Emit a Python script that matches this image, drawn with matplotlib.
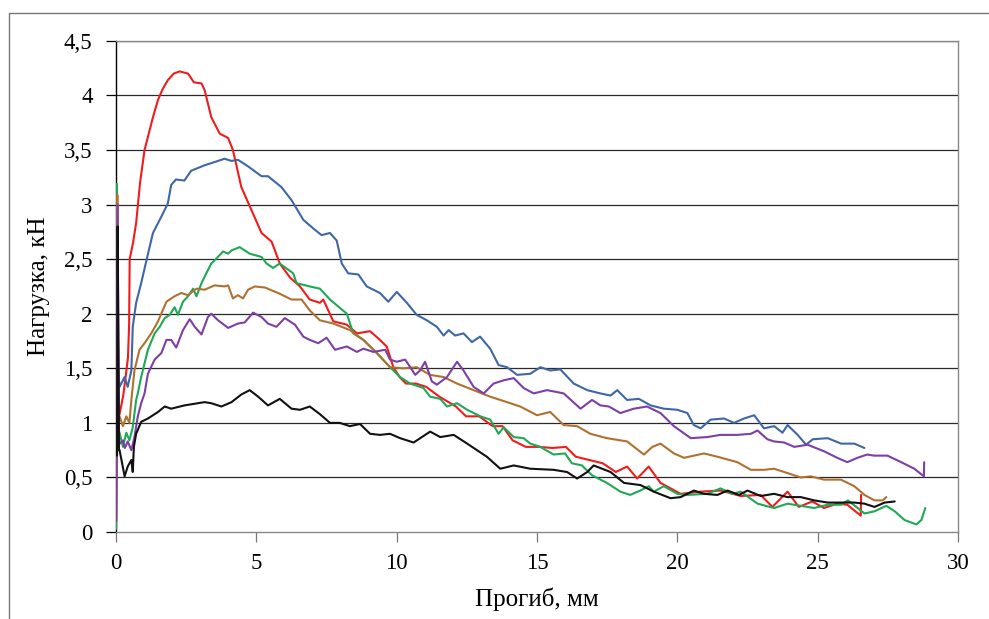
import matplotlib
matplotlib.use("Agg")
import matplotlib.pyplot as plt
from matplotlib.patches import Rectangle

plt.rcParams['font.family'] = ['Liberation Serif', 'DejaVu Serif']

# Кривые нагрузка-прогиб (прогиб, мм; нагрузка, кН)
red_x = [0.0, 0.04, 0.12, 0.25, 0.35, 0.42, 0.46, 0.48, 0.6, 0.71, 0.85, 1.01, 1.13, 1.31, 1.49,
         1.66, 1.84, 2.05, 2.26, 2.56, 2.77, 3.04, 3.15, 3.39, 3.69, 3.99, 4.16, 4.46, 4.82, 5.18,
         5.54, 5.83, 6.2, 6.55, 6.90, 7.26, 7.38, 7.74, 8.22, 8.58, 9.05, 9.40, 9.64, 9.88, 10.1,
         10.33, 10.69, 11.05, 11.52, 12.11, 12.47, 12.94, 13.42, 13.77, 14.13, 14.60, 15.08, 15.55,
         16.03, 16.38, 16.86, 17.34, 17.81, 18.21, 18.57, 18.98, 19.40, 20.12, 20.83, 21.54, 22.26,
         22.97, 23.39, 23.93, 24.33, 24.81, 25.23, 25.70, 26.06, 26.54, 26.55]
red_y = [0.12, 1.22, 1.08, 1.25, 1.45, 1.6, 1.9, 2.5, 2.65, 2.83, 3.2, 3.5, 3.62, 3.8, 3.96,
         4.06, 4.14, 4.2, 4.22, 4.20, 4.12, 4.11, 4.05, 3.80, 3.65, 3.61, 3.50, 3.16, 2.95, 2.74,
         2.66, 2.46, 2.33, 2.25, 2.13, 2.10, 2.13, 1.93, 1.90, 1.82, 1.84, 1.76, 1.70, 1.51, 1.42,
         1.36, 1.36, 1.33, 1.24, 1.15, 1.06, 1.06, 0.97, 0.97, 0.84, 0.78, 0.78, 0.77,
         0.78, 0.69, 0.66, 0.63, 0.55, 0.60, 0.49, 0.60, 0.45, 0.35, 0.37, 0.38, 0.33,
         0.34, 0.23, 0.37, 0.23, 0.28, 0.22, 0.26, 0.25, 0.15, 0.34]

blue_x = [0.03, 0.06, 0.12, 0.30, 0.41, 0.54, 0.59, 0.71, 0.89, 1.07, 1.31, 1.61, 1.84, 1.96, 2.13,
          2.43, 2.67, 3.15, 3.51, 3.86, 4.11, 4.34, 4.70, 5.18, 5.41, 5.89, 6.25, 6.67, 7.03, 7.32,
          7.62, 7.86, 8.04, 8.27, 8.63, 8.93, 9.40, 9.70, 10.0, 10.36, 10.71, 11.07, 11.43, 11.67,
          11.85, 12.08, 12.38, 12.68, 12.97, 13.33, 13.63, 13.93, 14.29, 14.76, 15.12, 15.47, 15.83,
          16.31, 16.79, 17.26, 17.62, 17.86, 18.21, 18.63, 19.05, 19.52, 20.00, 20.36, 20.59, 20.83,
          21.19, 21.67, 22.02, 22.38, 22.74, 23.09, 23.45, 23.75, 23.93, 24.29, 24.59, 24.83, 25.36,
          25.84, 26.31, 26.67]
blue_y = [1.2, 1.5, 1.33, 1.42, 1.33, 1.48, 1.88, 2.10, 2.28, 2.48, 2.74, 2.89, 3.01, 3.18, 3.23,
          3.22, 3.31, 3.36, 3.39, 3.42, 3.40, 3.41, 3.35, 3.26, 3.26, 3.16, 3.04, 2.86, 2.78, 2.72,
          2.74, 2.67, 2.46, 2.37, 2.36, 2.25, 2.19, 2.11, 2.20, 2.10, 1.99, 1.94, 1.88, 1.80,
          1.85, 1.80, 1.82, 1.74, 1.79, 1.68, 1.53, 1.51, 1.44, 1.45, 1.51, 1.48, 1.49,
          1.36, 1.30, 1.27, 1.25, 1.30, 1.21, 1.22, 1.16, 1.13, 1.12, 1.09, 0.98, 0.95,
          1.03, 1.04, 1.00, 1.04, 1.07, 0.95, 0.97, 0.91, 0.98, 0.89, 0.80, 0.85, 0.86,
          0.81, 0.81, 0.77]

green_x = [0.0, 0.02, 0.06, 0.12, 0.24, 0.36, 0.47, 0.59, 0.71, 0.77, 0.89, 1.13, 1.37, 1.55, 1.73,
           1.91, 2.08, 2.20, 2.38, 2.56, 2.74, 2.86, 3.04, 3.21, 3.39, 3.51, 3.81, 3.99, 4.11, 4.40,
           4.76, 5.18, 5.36, 5.59, 5.83, 6.31, 6.43, 6.90, 7.26, 7.62, 8.22, 8.45, 8.81, 9.29, 9.76,
           10.12, 10.48, 10.95, 11.19, 11.55, 11.79, 12.15, 12.51, 12.98, 13.33, 13.63, 13.81, 14.17,
           14.52, 14.76, 15.12, 15.59, 16.0, 16.24, 16.6, 16.96, 17.49, 17.97, 18.32, 18.68, 18.98,
           19.16, 19.52, 20.0, 20.36, 21.07, 21.54, 21.96, 22.26, 22.86, 23.45, 23.93, 24.4, 24.88,
           25.36, 25.84, 26.08, 26.38, 26.67, 27.03, 27.45, 27.75, 28.1, 28.52, 28.7, 28.84]
green_y = [0.03, 3.19, 0.95, 0.91, 0.78, 0.91, 0.84, 0.96, 1.21, 1.27, 1.42, 1.67, 1.82, 1.88, 1.96,
           1.99, 2.06, 1.99, 2.11, 2.16, 2.23, 2.16, 2.28, 2.37, 2.46, 2.49, 2.57, 2.55, 2.58, 2.61,
           2.55, 2.52, 2.46, 2.42, 2.46, 2.37, 2.28, 2.25, 2.23, 2.13, 2.00, 1.82, 1.76, 1.64, 1.51,
           1.42, 1.36, 1.32, 1.24, 1.22, 1.15, 1.18, 1.12, 1.06, 1.03, 0.90, 0.96, 0.87,
           0.86, 0.81, 0.78, 0.71, 0.72, 0.63, 0.61, 0.52, 0.45, 0.37, 0.34, 0.38, 0.42,
           0.37, 0.42, 0.35, 0.34, 0.35, 0.40, 0.35, 0.37, 0.26, 0.22, 0.26, 0.24, 0.22,
           0.25, 0.25, 0.29, 0.23, 0.17, 0.19, 0.24, 0.19, 0.11, 0.07, 0.11, 0.22]

brown_x = [0.02, 0.04, 0.08, 0.12, 0.24, 0.36, 0.47, 0.54, 0.65, 0.83, 1.01, 1.25, 1.49, 1.79, 2.08,
           2.32, 2.56, 2.86, 3.15, 3.51, 3.86, 3.99, 4.16, 4.34, 4.52, 4.70, 4.94, 5.30, 5.77, 6.25,
           6.61, 6.90, 7.26, 7.74, 8.33, 8.81, 9.29, 9.76, 10.24, 10.71, 11.19, 11.67, 12.15, 12.74,
           13.33, 13.93, 14.40, 15.0, 15.47, 15.95, 16.43, 16.9, 17.49, 18.21, 18.81, 19.11, 19.40,
           19.88, 20.24, 20.95, 21.43, 22.14, 22.62, 23.09, 23.45, 23.93, 24.40, 24.76, 25.23, 25.83,
           26.31, 26.67, 27.03, 27.32, 27.45]
brown_y = [1.0, 3.09, 1.1, 1.06, 0.97, 1.06, 1.00, 1.21, 1.48, 1.67, 1.73, 1.82, 1.93, 2.11, 2.16,
           2.19, 2.17, 2.23, 2.22, 2.26, 2.25, 2.26, 2.14, 2.17, 2.14, 2.22, 2.25, 2.24, 2.19, 2.13,
           2.13, 2.03, 1.94, 1.91, 1.85, 1.76, 1.64, 1.51, 1.50, 1.51, 1.44, 1.42, 1.36, 1.30,
           1.24, 1.19, 1.15, 1.07, 1.10, 0.98, 0.97, 0.90, 0.86, 0.83, 0.71, 0.78, 0.81,
           0.72, 0.68, 0.72, 0.69, 0.64, 0.57, 0.57, 0.58, 0.54, 0.50, 0.51, 0.48, 0.48,
           0.42, 0.34, 0.29, 0.29, 0.32]

purple_x = [0.0, 0.05, 0.1, 0.12, 0.24, 0.31, 0.41, 0.54, 0.65, 0.77, 0.89, 1.01, 1.13, 1.37, 1.61,
            1.79, 1.96, 2.14, 2.38, 2.62, 2.80, 3.04, 3.27, 3.39, 3.63, 3.99, 4.34, 4.58, 4.88, 5.18,
            5.41, 5.71, 6.01, 6.37, 6.67, 6.90, 7.20, 7.50, 7.80, 8.22, 8.58, 8.81, 9.17, 9.59, 9.76,
            10.0, 10.3, 10.66, 10.83, 11.01, 11.25, 11.43, 11.79, 12.15, 12.38, 12.74, 13.10, 13.45,
            13.81, 14.17, 14.52, 14.88, 15.36, 15.95, 16.55, 16.96, 17.26, 17.56, 17.97, 18.45, 18.92,
            19.40, 19.88, 20.48, 21.07, 21.54, 22.14, 22.62, 22.86, 23.21, 23.45, 23.81, 24.17, 24.64,
            25.23, 25.70, 26.06, 26.42, 26.77, 27.01, 27.49, 27.98, 28.45, 28.79, 28.80]
purple_y = [0.1, 3.0, 0.8, 0.81, 0.84, 0.77, 0.83, 0.75, 0.87, 1.06, 1.18, 1.27, 1.45, 1.58, 1.64,
            1.76, 1.76, 1.69, 1.85, 1.95, 1.88, 1.81, 1.97, 2.00, 1.94, 1.87, 1.91, 1.92, 2.01, 1.97,
            1.91, 1.88, 1.96, 1.90, 1.79, 1.76, 1.73, 1.78, 1.67, 1.70, 1.65, 1.68, 1.65, 1.67, 1.58,
            1.56, 1.58, 1.44, 1.48, 1.56, 1.38, 1.35, 1.42, 1.56, 1.48, 1.33, 1.27, 1.36,
            1.39, 1.41, 1.32, 1.27, 1.30, 1.27, 1.13, 1.21, 1.16, 1.15, 1.09, 1.13, 1.15,
            1.09, 0.97, 0.86, 0.87, 0.89, 0.89, 0.90, 0.93, 0.85, 0.83, 0.82, 0.78, 0.80,
            0.74, 0.68, 0.64, 0.68, 0.71, 0.70, 0.70, 0.64, 0.58, 0.51, 0.64]

black_x = [0.03, 0.05, 0.1, 0.12, 0.30, 0.41, 0.54, 0.59, 0.63, 0.71, 0.89, 1.13, 1.49, 1.73, 1.96,
           2.43, 3.15, 3.39, 3.75, 4.11, 4.46, 4.76, 5.06, 5.41, 5.83, 6.25, 6.55, 6.90, 7.26, 7.62,
           7.97, 8.33, 8.69, 9.05, 9.40, 9.76, 10.12, 10.60, 11.19, 11.55, 12.03, 12.51, 13.21, 13.69,
           14.17, 14.76, 15.59, 16.07, 16.43, 16.79, 17.02, 17.62, 18.1, 18.69, 19.16, 19.76, 20.12,
           20.59, 20.95, 21.43, 21.79, 22.2, 22.5, 22.97, 23.45, 23.93, 24.40, 24.88, 25.36, 25.84,
           26.31, 26.67, 27.03, 27.39, 27.75]
black_y = [0.7, 2.8, 0.75, 0.75, 0.51, 0.60, 0.66, 0.55, 0.78, 0.90, 1.01, 1.04, 1.10, 1.15, 1.13,
           1.16, 1.19, 1.18, 1.15, 1.19, 1.26, 1.30, 1.24, 1.16, 1.22, 1.13, 1.12, 1.15, 1.08, 1.00,
           1.00, 0.97, 0.99, 0.90, 0.89, 0.90, 0.86, 0.82, 0.92, 0.87, 0.89, 0.81, 0.69, 0.58,
           0.61, 0.58, 0.57, 0.55, 0.49, 0.55, 0.61, 0.55, 0.45, 0.43, 0.37, 0.31, 0.32,
           0.38, 0.35, 0.34, 0.38, 0.34, 0.38, 0.33, 0.35, 0.32, 0.32, 0.29, 0.27, 0.27,
           0.27, 0.26, 0.23, 0.27, 0.28]

series = [
    (red_x, red_y, '#f01c1c'),
    (blue_x, blue_y, '#3f67a6'),
    (green_x, green_y, '#1fa856'),
    (brown_x, brown_y, '#b0712f'),
    (purple_x, purple_y, '#7d3fa6'),
    (black_x, black_y, '#111111'),
]

y_ticks = [0, 0.5, 1, 1.5, 2, 2.5, 3, 3.5, 4, 4.5]
y_tick_labels = ['0', '0,5', '1', '1,5', '2', '2,5', '3', '3,5', '4', '4,5']
x_ticks = [0, 5, 10, 15, 20, 25, 30]

fig = plt.figure(figsize=(9.89, 6.19), dpi=100)
ax = fig.add_axes([0.1175, 0.1405, 0.851, 0.7935])

for y in y_ticks[1:]:
    ax.axhline(y, color='#2a2a2a', lw=0.9, zorder=1)

for xs, ys, c in series:
    ax.plot(xs, ys, color=c, lw=1.5, zorder=3,
            solid_joinstyle='round', solid_capstyle='round')

ax.set_xlim(0, 30)
ax.set_ylim(0, 4.5)
ax.set_xticks(x_ticks)
ax.set_xticklabels([str(t) for t in x_ticks])
ax.set_yticks(y_ticks)
ax.set_yticklabels(y_tick_labels)
ax.tick_params(axis='both', labelsize=16.5, direction='out', length=7, width=0.9, colors='black')
ax.tick_params(axis='y', pad=10)
ax.tick_params(axis='x', pad=8, color='#777777')

ax.spines['left'].set_color('black')
ax.spines['left'].set_linewidth(1.0)
for side in ('bottom', 'right', 'top'):
    ax.spines[side].set_color('#888888')
    ax.spines[side].set_linewidth(1.0)

ax.set_xlabel('Прогиб, мм', fontsize=18, labelpad=10)
ax.set_ylabel('Нагрузка, кН', fontsize=18, labelpad=10)

# рамка вокруг рисунка (видны только верхняя и левая стороны)
fig.add_artist(Rectangle((9 / 989, -0.2), 1.2, 1.2 - 13 / 619, transform=fig.transFigure,
                         fill=False, ec='#777777', lw=1.0, clip_on=False))

fig.savefig('out.png', dpi=100)
